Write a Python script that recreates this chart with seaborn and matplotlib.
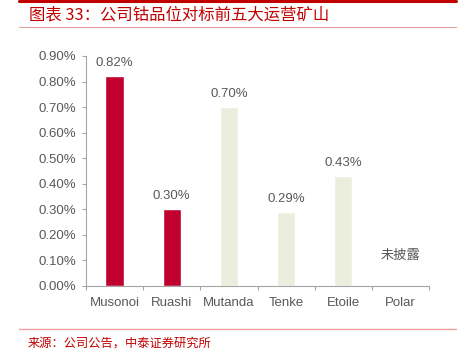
import numpy as np
import pandas as pd
import matplotlib
matplotlib.use("Agg")
import matplotlib.pyplot as plt
from matplotlib.ticker import FuncFormatter, FixedLocator
from matplotlib.lines import Line2D
import seaborn as sns

categories = ["Musonoi", "Ruashi", "Mutanda", "Tenke", "Etoile", "Polar"]
values = [0.82, 0.30, 0.70, 0.29, 0.43, np.nan]
bar_colors = ["#C0002F", "#C0002F", "#EBEEDD", "#EBEEDD", "#EBEEDD", "#EBEEDD"]
title = "图表 33：公司钴品位对标前五大运营矿山"
source = "来源：公司公告，中泰证券研究所"
na_label = "未披露"
y_ticks = [0.0, 0.1, 0.2, 0.3, 0.4, 0.5, 0.6, 0.7, 0.8, 0.9]

sns.set_theme(style="white")
plt.rcParams['font.family'] = ['Liberation Sans', 'Noto Sans CJK SC', 'DejaVu Sans']

df = pd.DataFrame({"mine": categories, "grade": values})

fig = plt.figure(figsize=(4.68, 3.53), dpi=100)
ax = fig.add_axes([86/468, 1-286/353, (429-86)/468, (286-56)/353])

sns.barplot(data=df, x="mine", y="grade", hue="mine", order=categories,
            hue_order=categories, palette=dict(zip(categories, bar_colors)),
            legend=False, width=0.32, ax=ax, saturation=1)

txt = "#595959"
for cont in ax.containers:
    labels = [f"{v:.2f}%" if np.isfinite(v) and v > 0 else "" for v in cont.datavalues]
    ax.bar_label(cont, labels=labels, padding=5, fontsize=9.5, color=txt)

ax.text(5, 0.12, na_label, ha="center", va="center", fontsize=9.5, color=txt,
        family=['Noto Sans CJK SC', 'DejaVu Sans'])

ax.set_ylim(0, 0.9)
ax.set_xlim(-0.5, 5.5)
ax.yaxis.set_major_locator(FixedLocator(y_ticks))
ax.yaxis.set_major_formatter(FuncFormatter(lambda v, p: f"{v:.2f}%"))
ax.set_xlabel("")
ax.set_ylabel("")

for s in ["top", "right"]:
    ax.spines[s].set_visible(False)
for s in ["left", "bottom"]:
    ax.spines[s].set_color("#A6A6A6")
    ax.spines[s].set_linewidth(0.8)

ax.tick_params(axis="y", which="major", direction="out", length=3, width=0.8,
               color="#A6A6A6", labelsize=9.5, labelcolor=txt, pad=4, left=True)
ax.tick_params(axis="x", which="major", length=0, labelsize=9.5, labelcolor=txt, pad=8)
ax.set_xticks(np.arange(-0.5, 6.0, 1.0), minor=True)
ax.tick_params(axis="x", which="minor", direction="out", length=3, width=0.8,
               color="#A6A6A6", bottom=True)

# header decorations
fig.add_artist(Line2D([19/468, 456/468], [1-1/353, 1-1/353], color="#C00000", lw=2.2))
fig.add_artist(Line2D([19/468, 456/468], [1-27/353, 1-27/353], color="#E8A0A0", lw=0.8))
fig.text(29/468, 1-15/353, title, ha="left", va="center", fontsize=11.8,
         color="#C00000", style="italic",
         family=['Noto Sans CJK SC', 'DejaVu Sans'])
fig.add_artist(Line2D([19/468, 456/468], [1-329/353, 1-329/353], color="#F0A0A0", lw=1.0))
fig.text(28/468, 1-343/353, source, ha="left", va="center", fontsize=8.8,
         color="#C00000", family=['Noto Sans CJK SC', 'DejaVu Sans'])

fig.savefig("out.png", dpi=100)
